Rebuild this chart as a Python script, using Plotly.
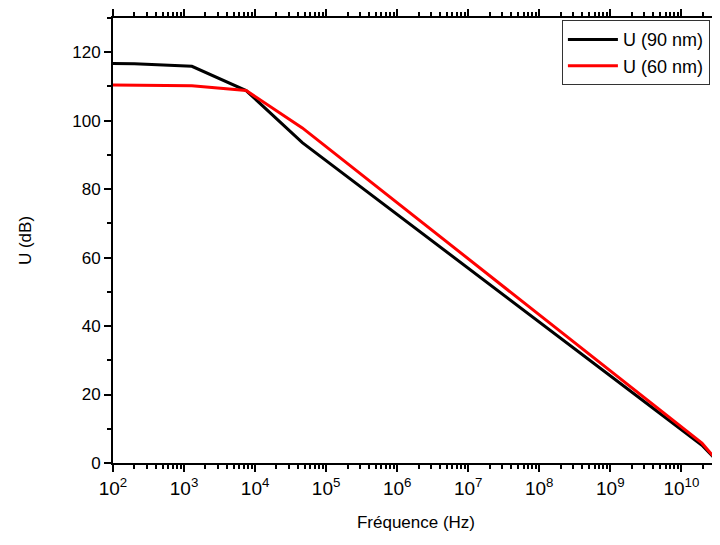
"""Gain vs frequency (log x) for 90 nm and 60 nm."""

import plotly.graph_objects as go

# values
freq_hz = [100, 200, 1290, 7480, 46200, 1.95e10, 3.4e10]
u_90nm = [116.7, 116.6, 115.9, 108.8, 93.6, 5.2, 0.0]
u_60nm = [110.4, 110.4, 110.2, 108.8, 97.9, 5.8, 0.0]

x_tickvals = [10 ** k for k in range(2, 11)]
x_ticktext = [f"10<sup>{k}</sup>" for k in range(2, 11)]
y_tickvals = [0, 20, 40, 60, 80, 100, 120]

FONT = "Arial, Liberation Sans, sans-serif"

fig = go.Figure()
fig.add_trace(go.Scatter(
    x=freq_hz, y=u_90nm, mode="lines", name="U (90 nm)",
    line=dict(color="black", width=3),
))
fig.add_trace(go.Scatter(
    x=freq_hz, y=u_60nm, mode="lines", name="U (60 nm)",
    line=dict(color="#ff0000", width=3),
))

# page body has an 8px margin on every side; keep the page from scrolling
fig.update_layout(
    width=712,
    height=524,
    margin=dict(l=105, r=1, t=2, b=67),
    plot_bgcolor="white",
    paper_bgcolor="white",
    font=dict(family=FONT, size=16, color="black"),
    showlegend=True,
    legend=dict(
        x=0.985, y=0.995, xanchor="right", yanchor="top",
        bgcolor="white", bordercolor="#333", borderwidth=1,
        font=dict(size=18), tracegroupgap=0, itemwidth=50,
    ),
    xaxis=dict(
        type="log",
        range=[2, 10.53],
        tickvals=x_tickvals,
        ticktext=x_ticktext,
        ticks="outside", ticklen=7, tickwidth=2, tickcolor="black",
        minor=dict(ticks="outside", ticklen=4, tickwidth=1.5,
                   tickcolor="black", dtick="D1"),
        showline=True, linewidth=2, linecolor="black",
        mirror="ticks", showgrid=False, zeroline=False,
        title=dict(text="Fréquence (Hz)", font=dict(size=17), standoff=20),
        tickfont=dict(size=19),
    ),
    yaxis=dict(
        range=[0, 130],
        tickvals=y_tickvals,
        ticks="outside", ticklen=7, tickwidth=2, tickcolor="black",
        minor=dict(ticks="outside", ticklen=4, tickwidth=1.5,
                   tickcolor="black", dtick=10),
        showline=True, linewidth=2, linecolor="black",
        showgrid=False, zeroline=False,
        title=dict(text="U (dB)", font=dict(size=17), standoff=36),
        tickfont=dict(size=17),
    ),
)

fig.write_html("out.html")
